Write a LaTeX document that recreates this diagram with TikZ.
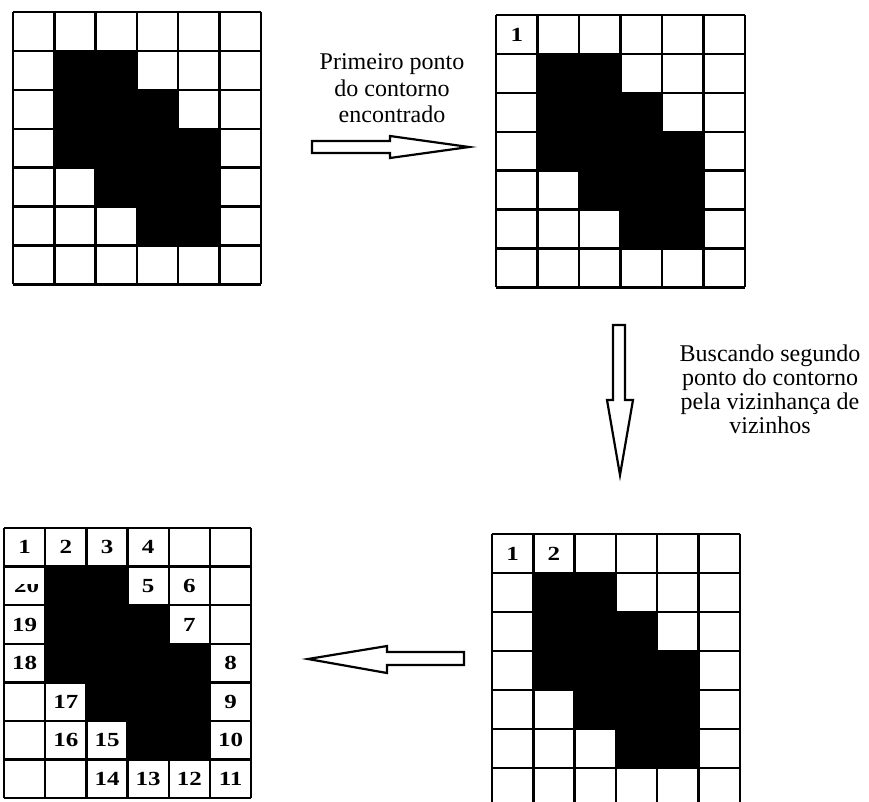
\documentclass[tikz,border=0pt]{standalone}
\usepackage{fontspec}
\setmainfont{Liberation Serif}
\newfontfamily\cellfont[FakeStretch=1.25]{Liberation Serif}
\usetikzlibrary{positioning}

\tikzset{
  gridline/.style={black, line width=2.4pt},
  blockarrow/.style={draw=black, fill=white, line width=2.2pt, line join=miter},
  cellnum/.style={inner sep=0pt, font=\fontsize{20}{20}\cellfont\bfseries},
  caption/.style={align=center, font=\fontsize{24}{26.5}\selectfont}
}

\newcommand{\pixelgrid}{%
  \foreach \c/\r in {1/1,2/1,1/2,2/2,3/2,1/3,2/3,3/3,4/3,2/4,3/4,4/4,3/5,4/5}{
    \fill[black] (\c,\r) rectangle ++(1,1);
  }
  \foreach \k in {0,...,6}{
    \draw[gridline] (\k,0) -- (\k,7);
  }
  \foreach \k in {0,...,7}{
    \draw[gridline] (0,\k) -- (6,\k);
  }
}

\begin{document}
\begin{tikzpicture}[x=1pt,y=-1pt]
  \path[use as bounding box] (0,0) rectangle (869,801);

  \begin{scope}[shift={(13,12)}, x=41.3pt, y=-38.9pt]
    \pixelgrid
  \end{scope}

  \begin{scope}[shift={(496,15)}, x=41.5pt, y=-38.9pt]
    \pixelgrid
    \node[cellnum] (a1) at (0.5,0.5) {1};
  \end{scope}

  \begin{scope}[shift={(492,534)}, x=41.3pt, y=-39pt]
    \pixelgrid
    \node[cellnum] (b1) at (0.5,0.5) {1};
    \node[cellnum] (b2) at (1.5,0.5) {2};
  \end{scope}

  \begin{scope}[shift={(4,528)}, x=41.2pt, y=-38.6pt]
    \pixelgrid
    \foreach \n/\c/\r in {1/0/0,2/1/0,3/2/0,4/3/0,5/3/1,6/4/1,7/4/2,8/5/3,9/5/4,10/5/5,
                          11/5/6,12/4/6,13/3/6,14/2/6,15/2/5,16/1/5,17/1/4,18/0/3,19/0/2}{
      \node[cellnum] (c\n) at (\c+0.5,\r+0.5) {\n};
    }
    \begin{scope}
      \clip (0.05,1.47) rectangle (0.95,1.95);
      \node[cellnum] (c20) at (0.55,1.5) {20};
    \end{scope}
  \end{scope}

  \node[caption] (first) at (392,88.5) {Primeiro ponto\\do contorno\\encontrado};
  \node[caption, font=\fontsize{24}{24}\selectfont] (second) at (770,389)
    {Buscando segundo\\ponto do contorno\\pela vizinhança de\\vizinhos};

  \draw[blockarrow] (312,141) -- (390,141) -- (390,136) -- (469,147)
    -- (390,158) -- (390,153) -- (312,153) -- cycle;
  \draw[blockarrow] (613,325) -- (625,325) -- (625,400) -- (633,400)
    -- (620,475) -- (607,400) -- (613,400) -- cycle;
  \draw[blockarrow] (464,652) -- (387,652) -- (387,646) -- (308,659)
    -- (387,673) -- (387,665) -- (464,665) -- cycle;
\end{tikzpicture}
\end{document}
